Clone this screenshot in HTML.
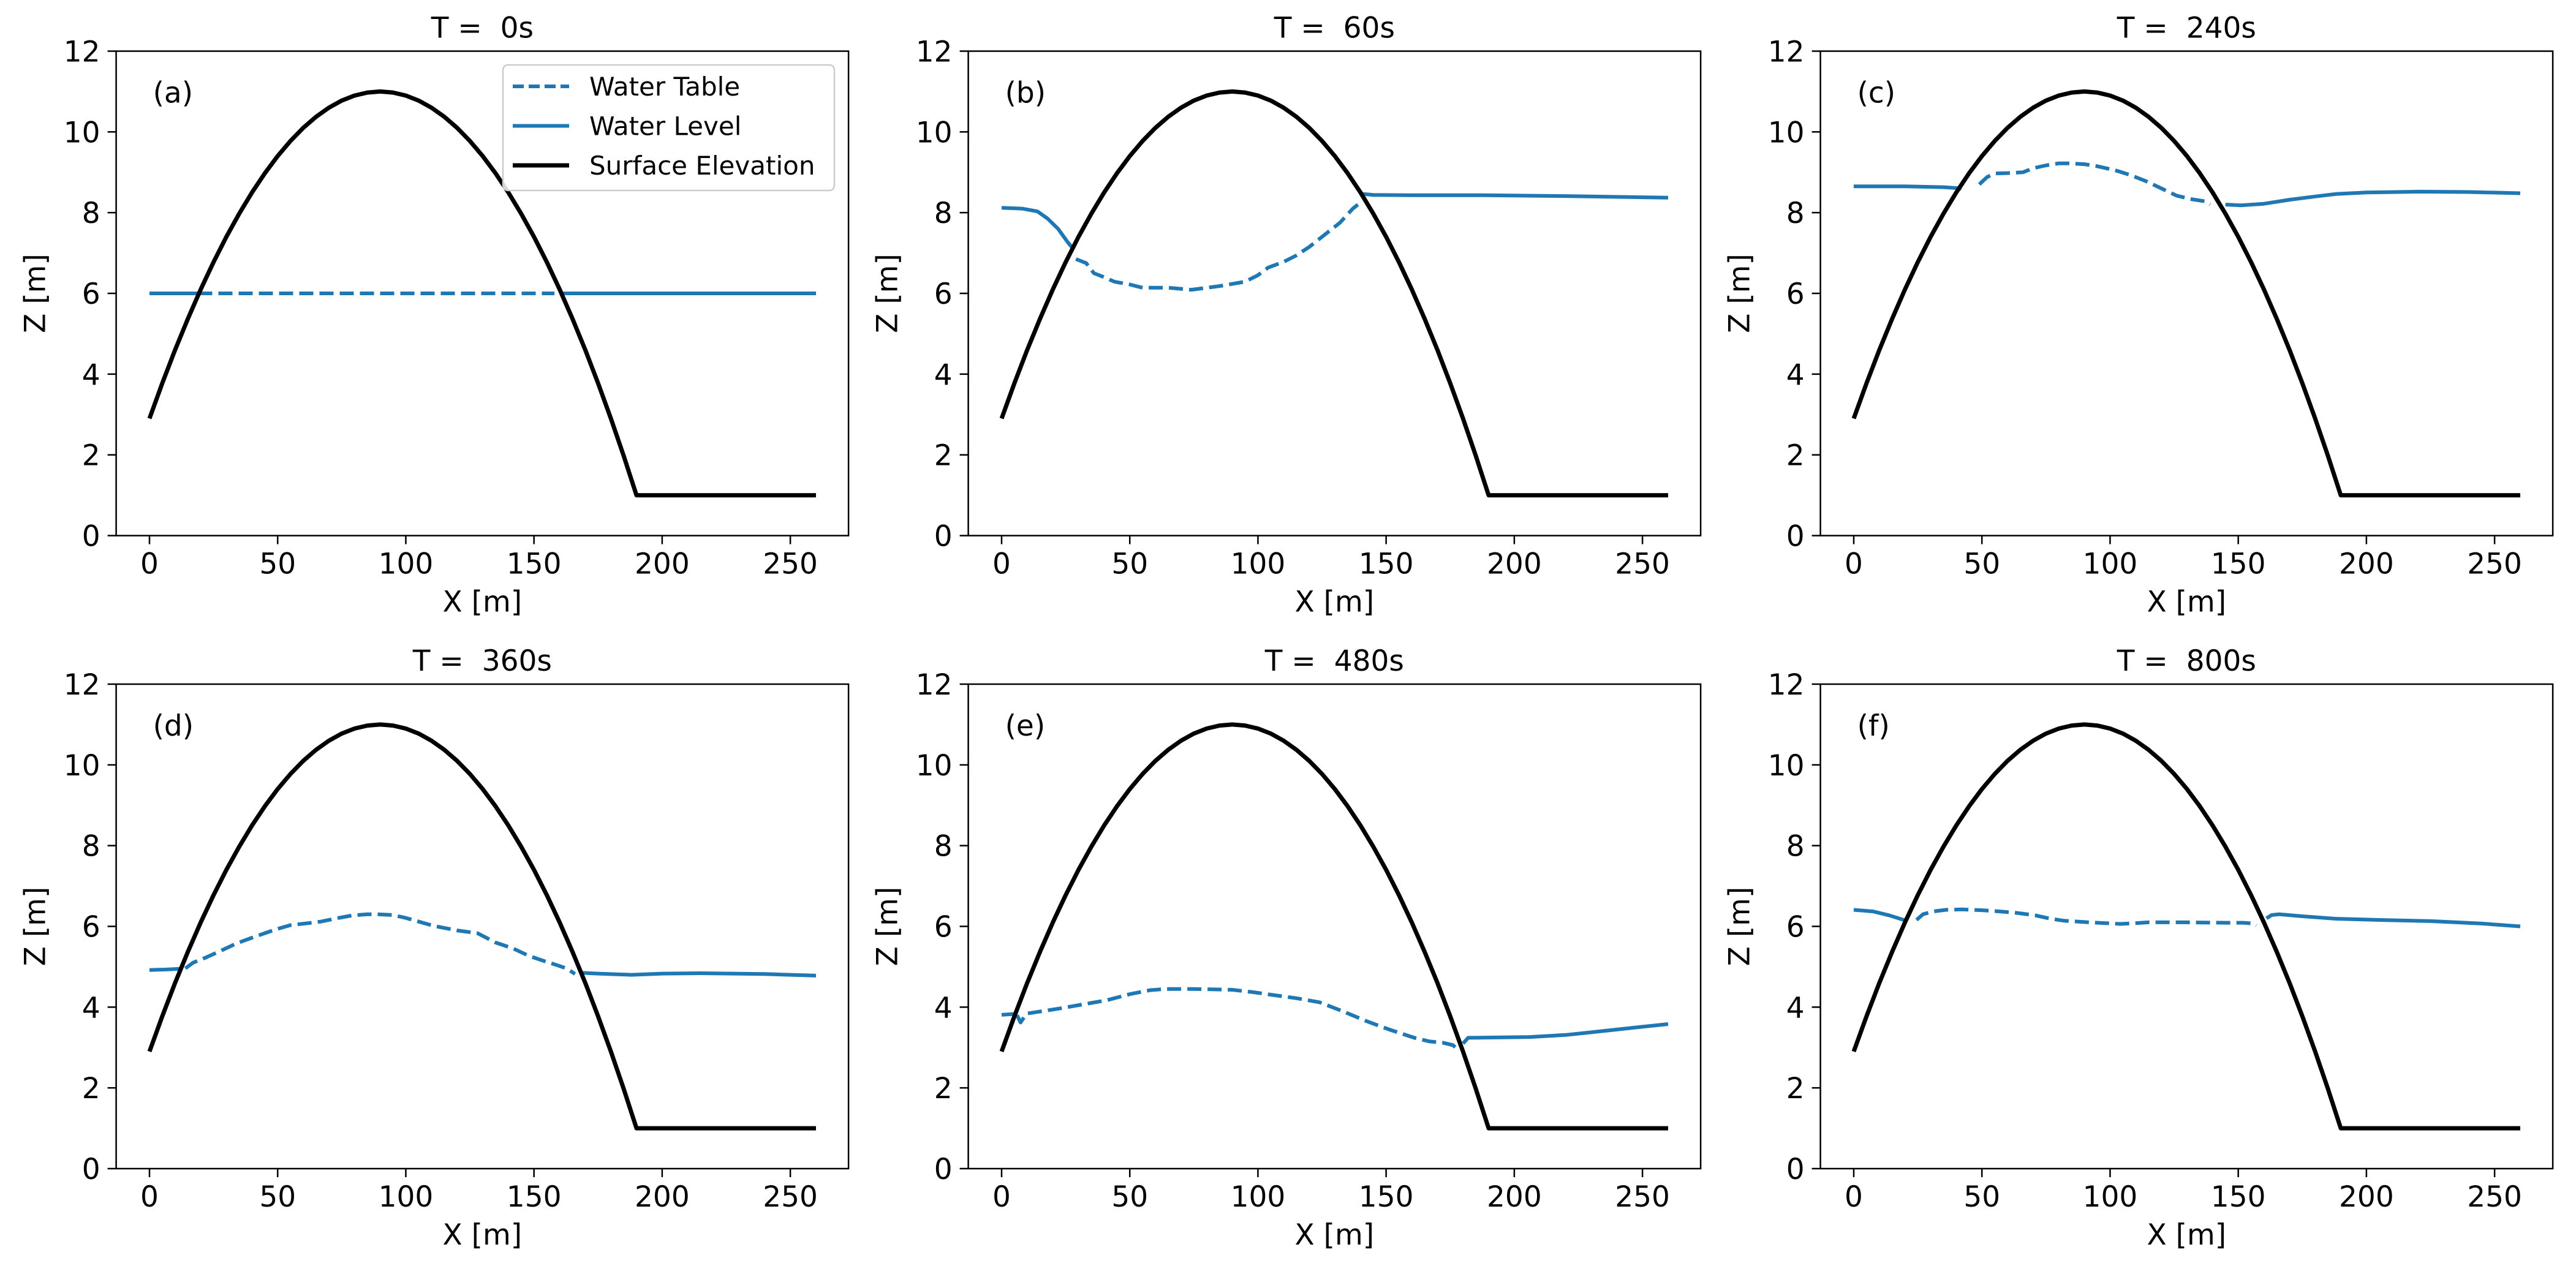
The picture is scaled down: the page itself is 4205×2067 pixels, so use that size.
<!DOCTYPE html>
<html><head><meta charset="utf-8"><style>
html,body{margin:0;padding:0;background:#fff;}
svg{display:block;font-family:"DejaVu Sans","Liberation Sans",sans-serif;}
text{white-space:pre;}
</style></head><body>
<svg id="fig" width="4205" height="2067" viewBox="0 0 4205 2067" xmlns="http://www.w3.org/2000/svg"></svg>
<script>
// ---- data ----
const xTicks = [0, 50, 100, 150, 200, 250];
const yTicks = [0, 2, 4, 6, 8, 10, 12];
const titles = ["T =  0s", "T =  60s", "T =  240s", "T =  360s", "T =  480s", "T =  800s"];
const panelLabels = ["(a)", "(b)", "(c)", "(d)", "(e)", "(f)"];
const surfX = [0,5,10,15,20,25,30,35,40,45,50,55,60,65,70,75,80,85,90,95,100,105,110,115,120,125,130,135,140,145,150,155,160,165,170,175,180,185,190,260];
const surfZ = [2.9,3.775,4.6,5.375,6.1,6.775,7.4,7.975,8.5,8.975,9.4,9.775,10.1,10.375,10.6,10.775,10.9,10.975,11,10.975,10.9,10.775,10.6,10.375,10.1,9.775,9.4,8.975,8.5,7.975,7.4,6.775,6.1,5.375,4.6,3.775,2.9,1.975,1,1];
// panel a
const aLeftX = [0, 19], aLeftZ = [6, 6];
const aTableX = [19, 158], aTableZ = [6, 6];
const aRightX = [160, 260], aRightZ = [6, 6];
// panel b
const bLeftX = [0, 8, 14, 18, 22, 26, 28], bLeftZ = [8.12, 8.1, 8.03, 7.85, 7.6, 7.25, 7.1];
const bTableX = [29, 33, 36, 40, 44, 50, 55, 65, 74, 85, 95, 100, 104, 110, 115, 120, 126, 132, 137, 139], bTableZ = [6.85, 6.75, 6.5, 6.4, 6.29, 6.22, 6.14, 6.14, 6.09, 6.18, 6.29, 6.45, 6.64, 6.78, 6.94, 7.15, 7.45, 7.75, 8.1, 8.2];
const bRightX = [141, 145, 160, 188, 220, 260], bRightZ = [8.46, 8.44, 8.43, 8.43, 8.41, 8.37];
// panel c
const cLeftX = [0, 20, 35, 42], cLeftZ = [8.65, 8.65, 8.63, 8.6];
const cTableX = [49, 52, 55, 60, 66, 70, 75, 80, 84, 90, 95, 102, 108, 114, 119, 126, 132, 137, 139], cTableZ = [8.7, 8.88, 8.97, 8.98, 9.0, 9.1, 9.17, 9.22, 9.22, 9.2, 9.15, 9.05, 8.93, 8.78, 8.63, 8.42, 8.33, 8.28, 8.2];
const cRightX = [145, 151, 160, 170, 180, 188, 200, 221, 240, 260], cRightZ = [8.2, 8.18, 8.22, 8.32, 8.4, 8.46, 8.5, 8.52, 8.51, 8.48];
// panel d
const dLeftX = [0, 6, 12], dLeftZ = [4.92, 4.93, 4.95];
const dTableX = [14, 17, 22, 28, 34, 40, 49, 55, 62, 67, 73, 79, 85, 89, 95, 100, 106, 111, 120, 128, 135, 142, 148, 154, 159, 163, 166], dTableZ = [4.96, 5.1, 5.23, 5.4, 5.58, 5.72, 5.92, 6.03, 6.08, 6.12, 6.2, 6.27, 6.3, 6.3, 6.28, 6.21, 6.1, 6.01, 5.9, 5.83, 5.6, 5.45, 5.27, 5.14, 5.04, 4.95, 4.82];
const dRightX = [168, 175, 188, 200, 215, 240, 260], dRightZ = [4.85, 4.83, 4.8, 4.83, 4.84, 4.82, 4.78];
// panel e
const eLeftX = [0, 5], eLeftZ = [3.81, 3.83];
const eTableX = [6, 7.4, 9.7, 16, 23, 32, 41, 50, 58, 64, 75, 90, 98, 106, 115, 124, 133, 142, 151, 161, 167, 172, 176, 178], eTableZ = [3.8, 3.62, 3.84, 3.9, 3.97, 4.07, 4.17, 4.32, 4.42, 4.45, 4.45, 4.43, 4.37, 4.3, 4.22, 4.12, 3.9, 3.66, 3.45, 3.24, 3.15, 3.12, 3.06, 2.95];
const eRightX = [180, 182, 195, 206, 220, 229, 245, 260], eRightZ = [3.1, 3.24, 3.25, 3.26, 3.31, 3.37, 3.48, 3.58];
// panel f
const fLeftX = [0, 7.5, 14, 20], fLeftZ = [6.41, 6.37, 6.27, 6.15];
const fTableX = [24.5, 27, 31, 36, 42, 50, 57, 64, 71, 76, 82, 92, 104, 110, 115, 130, 145, 152, 156, 157], fTableZ = [6.16, 6.3, 6.37, 6.41, 6.42, 6.4, 6.37, 6.33, 6.27, 6.2, 6.14, 6.1, 6.06, 6.08, 6.1, 6.1, 6.09, 6.09, 6.07, 6.02];
const fRightX = [161, 163, 166, 175, 188, 205, 225, 245, 260], fRightZ = [6.2, 6.28, 6.3, 6.25, 6.19, 6.16, 6.13, 6.07, 6.0];

const panelSeries = [
  [aLeftX, aLeftZ, aTableX, aTableZ, aRightX, aRightZ],
  [bLeftX, bLeftZ, bTableX, bTableZ, bRightX, bRightZ],
  [cLeftX, cLeftZ, cTableX, cTableZ, cRightX, cRightZ],
  [dLeftX, dLeftZ, dTableX, dTableZ, dRightX, dRightZ],
  [eLeftX, eLeftZ, eTableX, eTableZ, eRightX, eRightZ],
  [fLeftX, fLeftZ, fTableX, fTableZ, fRightX, fRightZ]
];

// ---- layout ----
const NS = "http://www.w3.org/2000/svg";
const fig = document.getElementById("fig");
const lefts = [189.6, 1580.6, 2971.6];
const tops = [83.5, 1117];
const W = 1195.5, H = 791;
const XMIN = -13, XMAX = 272.7, YMIN = 0, YMAX = 12;
const BLUE = "#1f77b4";

function el(tag, attrs, parent) {
  const e = document.createElementNS(NS, tag);
  for (const k in attrs) e.setAttribute(k, attrs[k]);
  parent.appendChild(e);
  return e;
}

for (let p = 0; p < 6; p++) {
  const L = lefts[p % 3], T = tops[Math.floor(p / 3)];
  const sx = v => L + (v - XMIN) / (XMAX - XMIN) * W;
  const sy = v => T + H - (v - YMIN) / (YMAX - YMIN) * H;
  const g = el("g", {}, fig);
  
  

  const t = el("text", {x: L + W / 2, y: T - 22, "font-size": 47, "text-anchor": "middle", fill: "#000"}, g);
  t.setAttributeNS("http://www.w3.org/XML/1998/namespace", "xml:space", "preserve");
  t.textContent = titles[p];
  
  

  for (const v of xTicks) {
    const x = sx(v);
    const tk = el("line", {x1: x, x2: x, y1: T + H, y2: T + H + 14, stroke: "#000", "stroke-width": 2.5}, g);
    
    
    const tl = el("text", {x: x, y: T + H + 62, "font-size": 47, "text-anchor": "middle"}, g);
    tl.textContent = v;
    
    
  }
  for (const v of yTicks) {
    const y = sy(v);
    const tk = el("line", {x1: L - 14, x2: L, y1: y, y2: y, stroke: "#000", "stroke-width": 2.5}, g);
    
    
    const tl = el("text", {x: L - 26, y: y + 17, "font-size": 47, "text-anchor": "end"}, g);
    tl.textContent = v;
    
    
  }
  const xl = el("text", {x: L + W / 2, y: T + H + 124, "font-size": 47, "text-anchor": "middle"}, g);
  xl.textContent = "X [m]";
  
  
  const cy = T + H / 2;
  const yl = el("text", {x: L - 116, y: cy, "font-size": 47, "text-anchor": "middle", transform: "rotate(-90 " + (L - 116) + " " + cy + ")"}, g);
  yl.textContent = "Z [m]";
  
  

  const clipId = "clip" + p;
  const cp = el("clipPath", {id: clipId}, g);
  el("rect", {x: L, y: T, width: W, height: H}, cp);
  const plot = el("g", {"clip-path": "url(#" + clipId + ")"}, g);

  const pts = (xs, zs) => xs.map((v, i) => sx(v).toFixed(1) + "," + sy(zs[i]).toFixed(1)).join(" ");
  const s = panelSeries[p];
  const l1 = el("polyline", {points: pts(s[0], s[1]), fill: "none", stroke: BLUE, "stroke-width": 6, "stroke-linejoin": "round"}, plot);
  
  
  const l2 = el("polyline", {points: pts(s[2], s[3]), fill: "none", stroke: BLUE, "stroke-width": 6, "stroke-dasharray": "23 10", "stroke-linejoin": "round"}, plot);
  
  
  const l3 = el("polyline", {points: pts(s[4], s[5]), fill: "none", stroke: BLUE, "stroke-width": 6, "stroke-linejoin": "round"}, plot);
  
  
  const sf = el("polyline", {points: pts(surfX, surfZ), fill: "none", stroke: "#000", "stroke-width": 7, "stroke-linejoin": "round"}, plot);
  
  

  const fr = el("rect", {x: L, y: T, width: W, height: H, fill: "none", stroke: "#000", "stroke-width": 2.5}, g);
  
  

  const pl = el("text", {x: L + 60, y: T + 84, "font-size": 47}, g);
  pl.textContent = panelLabels[p];
  
  

  if (p === 0) {
    const lg = el("g", {}, g);
    
    
    el("rect", {x: 821, y: 106, width: 541, height: 205, rx: 8, fill: "#fff", "fill-opacity": 0.85, stroke: "#ccc", "stroke-width": 2.5}, lg);
    const items = [["Water Table", BLUE, "18 8", 6], ["Water Level", BLUE, "", 6], ["Surface Elevation", "#000", "", 7]];
    items.forEach((it, i) => {
      const y = 141 + i * 64.5;
      const ln = el("line", {x1: 837, x2: 929, y1: y, y2: y, stroke: it[1], "stroke-width": it[3]}, lg);
      if (it[2]) ln.setAttribute("stroke-dasharray", it[2]);
      
      
      const tx = el("text", {x: 962, y: y + 15, "font-size": 42}, lg);
      tx.textContent = it[0];
      
      
    });
  }
}
</script>
</body></html>
